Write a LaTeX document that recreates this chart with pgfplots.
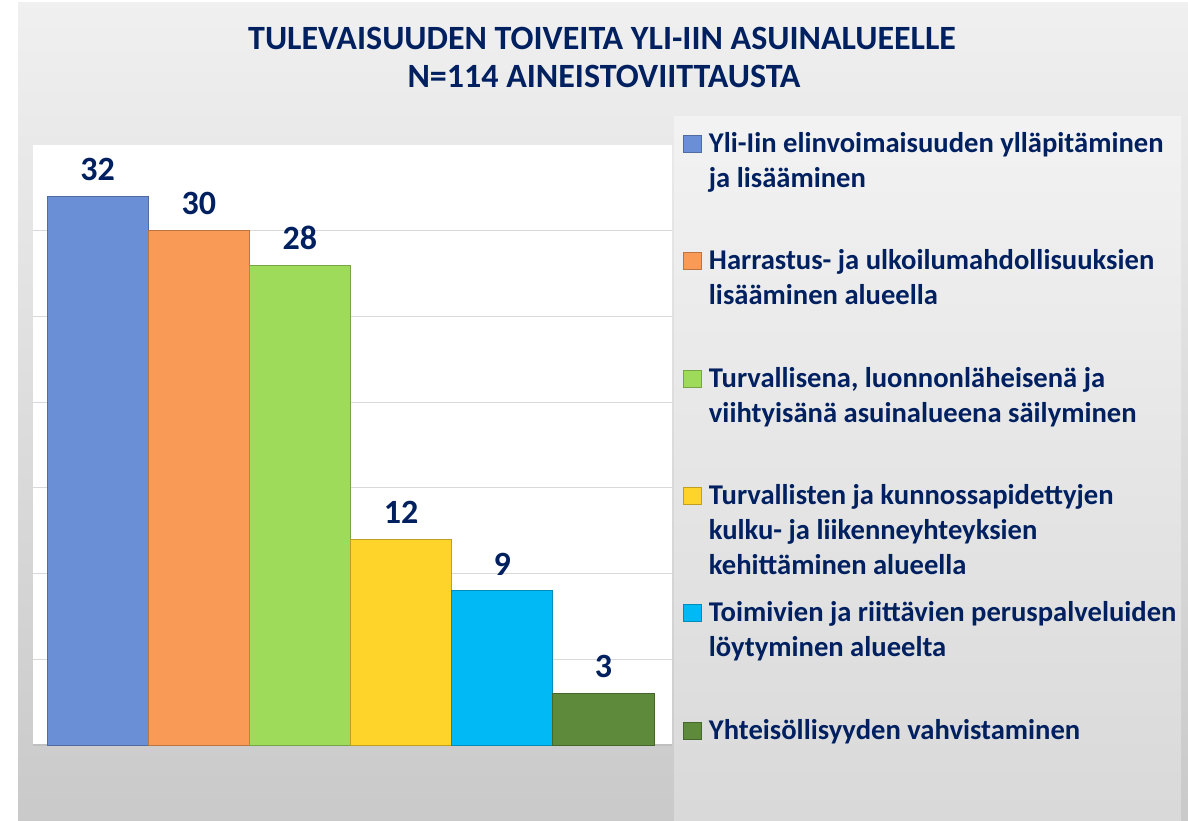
\documentclass[border=0pt]{standalone}
\usepackage{pgfplots}
\pgfplotsset{compat=1.18}
\usepackage{fontspec}
\setmainfont{Carlito}

\definecolor{navy}{HTML}{002060}
\definecolor{cblue}{HTML}{6A8FD6}
\definecolor{corange}{HTML}{F99A57}
\definecolor{cgreen}{HTML}{9FDB5A}
\definecolor{cyellow}{HTML}{FFD42A}
\definecolor{ccyan}{HTML}{00B9F5}
\definecolor{cdkgreen}{HTML}{5E8A3B}
\definecolor{gridgrey}{HTML}{D9D9D9}
\definecolor{basegrey}{HTML}{BFBFBF}

\begin{document}
\begin{tikzpicture}
% canvas: 1188 x 820 px, 1 px = 0.5pt
\useasboundingbox (0,0) rectangle (594pt,410pt);
\fill[white] (0,0) rectangle (594pt,410pt);
\shade[top color=black!6, bottom color=black!21] (9pt,0) rectangle (594pt,408.5pt);
\shade[top color=black!5, bottom color=black!15] (337pt,0) rectangle (590.5pt,351.5pt);

\node[font=\fontsize{17}{20}\selectfont\bfseries, text=navy, anchor=base]
  at (301pt,385pt) {TULEVAISUUDEN TOIVEITA YLI-IIN ASUINALUEELLE};
\node[font=\fontsize{17}{20}\selectfont\bfseries, text=navy, anchor=base]
  at (302pt,366pt) {N=114 AINEISTOVIITTAUSTA};

\begin{axis}[
  at={(16.5pt,37.5pt)}, anchor=south west, scale only axis,
  width=319.5pt, height=300pt,
  xmin=-0.639, xmax=5.678, ymin=0, ymax=35,
  ybar, bar width=1,
  axis background/.style={fill=white},
  axis line style={draw=none},
  xtick=\empty, ytick={5,10,...,30}, yticklabels={},
  major tick length=0pt,
  ymajorgrids, major grid style={draw=gridgrey, line width=0.6pt},
  extra y ticks={0}, extra y tick labels={},
  extra y tick style={grid=major, major grid style={draw=basegrey, line width=0.8pt}},
  /pgf/number format/assume math mode=true,
  nodes near coords,
  nodes near coords style={font=\fontsize{17}{17}\selectfont\bfseries, text=navy,
    anchor=south, inner sep=0pt, yshift=7.5pt},
  legend image code/.code={\draw[#1] (0pt,0pt) rectangle (9pt,8.5pt);},
  legend style={at={(1.0165,1.0217)}, anchor=north west, draw=none, fill=none,
    inner sep=0pt, row sep=0pt, column sep=0pt,
    font=\fontsize{14.3}{17.5}\selectfont\bfseries, text=navy,
    cells={anchor=base west},
    nodes={anchor=base west, inner xsep=3.5pt, inner ysep=0pt, text width=234pt,
      align=flush left, text height=10pt, text depth=48.7pt}},
]
\addplot[fill=cblue, draw=cblue!75!black, line width=0.5pt, bar shift=0pt] coordinates {(0,32)};
\addlegendentry{Yli-Iin elinvoimaisuuden ylläpitäminen\\ja lisääminen}
\addplot[fill=corange, draw=corange!75!black, line width=0.5pt, bar shift=0pt] coordinates {(1,30)};
\addlegendentry{Harrastus- ja ulkoilumahdollisuuksien\\lisääminen alueella}
\addplot[fill=cgreen, draw=cgreen!75!black, line width=0.5pt, bar shift=0pt] coordinates {(2,28)};
\addlegendentry{Turvallisena, luonnonläheisenä ja\\viihtyisänä asuinalueena säilyminen}
\addplot[fill=cyellow, draw=cyellow!75!black, line width=0.5pt, bar shift=0pt] coordinates {(3,12)};
\addlegendentry{Turvallisten ja kunnossapidettyjen\\kulku- ja liikenneyhteyksien\\kehittäminen alueella}
\addplot[fill=ccyan, draw=ccyan!75!black, line width=0.5pt, bar shift=0pt] coordinates {(4,9)};
\addlegendentry{Toimivien ja riittävien peruspalveluiden\\löytyminen alueelta}
\addplot[fill=cdkgreen, draw=cdkgreen!75!black, line width=0.5pt, bar shift=0pt] coordinates {(5,3)};
\addlegendentry{Yhteisöllisyyden vahvistaminen}
\end{axis}
\end{tikzpicture}
\end{document}
